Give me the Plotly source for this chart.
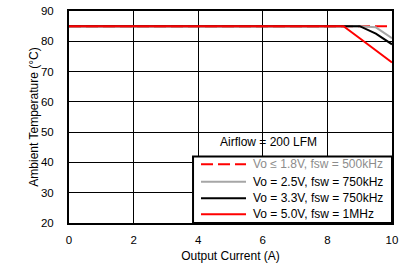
import plotly.graph_objects as go

# Data
i_18 = [0, 10]
t_18 = [85, 85]
i_25 = [0, 9.0, 9.5, 10]
t_25 = [85, 85, 84.6, 81]
i_33 = [0, 9.0, 9.5, 10]
t_33 = [85, 85, 82.5, 79]
i_50 = [0, 8.5, 9.0, 10]
t_50 = [85, 85, 81, 73]
names = ["Vo ≤ 1.8V, fsw = 500kHz",
         "Vo = 2.5V, fsw = 750kHz",
         "Vo = 3.3V, fsw = 750kHz",
         "Vo = 5.0V, fsw = 1MHz"]
name_colors = ["#8c8c8c", "black", "black", "black"]
x_ticks = [0, 2, 4, 6, 8, 10]
y_ticks = [20, 30, 40, 50, 60, 70, 80, 90]

FONT = "Arial, Liberation Sans, Helvetica, sans-serif"
FS = 12
TFS = 11.5

series = [(i_18, t_18, dict(color="#ff0000", width=2, dash="12px,5px")),
          (i_25, t_25, dict(color="#a6a6a6", width=2)),
          (i_33, t_33, dict(color="#000000", width=2)),
          (i_50, t_50, dict(color="#ff0000", width=2))]

fig = go.Figure()
for (xs, ys, ln), nm in zip(series, names):
    fig.add_trace(go.Scatter(x=xs, y=ys, mode="lines", name=nm, line=ln,
                             showlegend=False))

# white box behind the airflow note
fig.add_shape(type="rect", xref="paper", yref="paper",
              x0=0.396, x1=0.814, y0=0.3136, y1=0.45,
              fillcolor="white", line=dict(width=0), layer="between")
fig.add_annotation(text="Airflow = 200 LFM", xref="paper", yref="paper",
                   x=0.619, y=0.382, showarrow=False,
                   font=dict(size=FS, color="black", family=FONT))

# legend box
fig.add_shape(type="rect", xref="paper", yref="paper",
              x0=0.384, x1=1.0, y0=0.0, y1=0.3136,
              fillcolor="white", line=dict(width=2, color="black"), layer="above")
row_y = [0.2773, 0.194, 0.1168, 0.0409]
for (xs, ys, ln), nm, nc, ry in zip(series, names, name_colors, row_y):
    fig.add_shape(type="line", xref="paper", yref="paper",
                  x0=0.4087, x1=0.548, y0=ry, y1=ry, line=ln, layer="above")
    fig.add_annotation(text=nm, xref="paper", yref="paper", x=0.5635, y=ry,
                       xanchor="left", yanchor="middle", showarrow=False,
                       font=dict(size=FS, color=nc, family=FONT))

fig.update_layout(
    width=406, height=266,
    margin=dict(l=69, r=14, t=5, b=41),
    paper_bgcolor="white", plot_bgcolor="white",
    font=dict(family=FONT, size=FS, color="black"),
    showlegend=False,
)
fig.update_xaxes(range=[0, 10], tickvals=x_ticks, showgrid=True, gridcolor="black",
                 gridwidth=1, showline=True, linecolor="black", linewidth=2,
                 mirror=True, zeroline=False, ticks="", ticklabelstandoff=5,
                 tickfont=dict(size=TFS),
                 title=dict(text="Output Current (A)", standoff=7,
                            font=dict(size=FS, family=FONT)))
fig.update_yaxes(range=[20, 90], tickvals=y_ticks, showgrid=True, gridcolor="black",
                 gridwidth=1, showline=True, linecolor="black", linewidth=2,
                 mirror=True, zeroline=False, ticks="", ticklabelstandoff=11,
                 tickfont=dict(size=TFS),
                 title=dict(text="Ambient Temperature (°C)", standoff=0,
                            font=dict(size=FS, family=FONT)))

fig.write_html("out.html")
